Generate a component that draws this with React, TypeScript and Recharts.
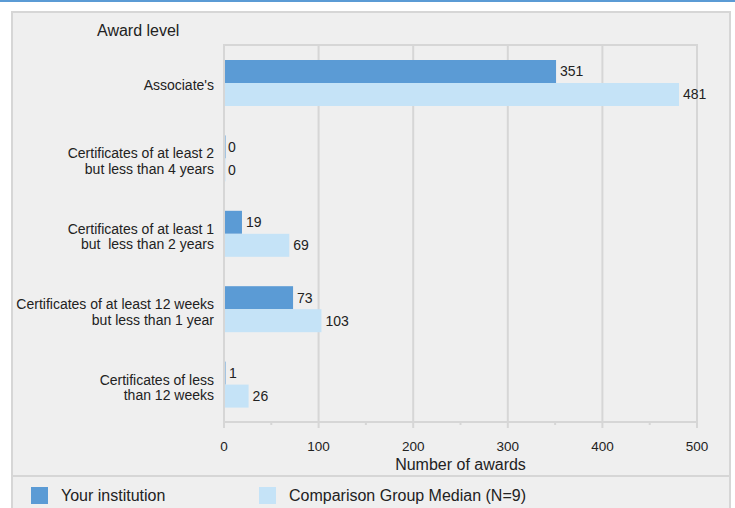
import {
  BarChart,
  Bar,
  XAxis,
  YAxis,
  CartesianGrid,
  ReferenceArea,
  LabelList,
} from "recharts";

const categories = [
  "Associate's",
  "Certificates of at least 2\nbut less than 4 years",
  "Certificates of at least 1\nbut  less than 2 years",
  "Certificates of at least 12 weeks\nbut less than 1 year",
  "Certificates of less\nthan 12 weeks",
];
const yourInstitution = [351, 0, 19, 73, 1];
const comparisonMedian = [481, 0, 69, 103, 26];
const xTicks = [0, 50, 100, 150, 200, 250, 300, 350, 400, 450, 500];
const gridValues = [100, 200, 300, 400];
const seriesNames = ["Your institution", "Comparison Group Median (N=9)"];

const data = categories.map((name, i) => ({
  name,
  yours: yourInstitution[i],
  median: comparisonMedian[i],
}));

const DARK = "#5b9bd5";
const LIGHT = "#c5e3f7";
const GRID = "#d6d6d6";
const FONT = "Arial, 'Liberation Sans', sans-serif";

function CategoryTick({ x, y, payload }: any) {
  const lines = String(payload.value).split("\n");
  const lh = 15.5;
  const start = y + 2 + (lines.length > 1 ? 1 : 0) - ((lines.length - 1) * lh) / 2;
  return (
    <text
      x={x - 2}
      y={start}
      textAnchor="end"
      dominantBaseline="central"
      fontSize={14}
      fill="#222"
      fontFamily={FONT}
      style={{ whiteSpace: "pre" }}
    >
      {lines.map((l, i) => (
        <tspan key={i} x={x - 2} y={start + i * lh} style={{ whiteSpace: "pre" }}>
          {l}
        </tspan>
      ))}
    </text>
  );
}

function ValueTick({ x, y, payload }: any) {
  const major = payload.value % 100 === 0;
  return (
    <g>
      <line x1={x} x2={x} y1={y - 8} y2={y - 8 + (major ? 6 : 3)} stroke={GRID} strokeWidth={2} />
      {major && (
        <text x={x} y={y + 21} textAnchor="middle" fontSize={13.5} fill="#222" fontFamily={FONT}>
          {payload.value}
        </text>
      )}
    </g>
  );
}

// thin sliver for zero / tiny values, like the original
function ThinBar({ x, y, width, height, fill }: any) {
  return <rect x={x} y={y} width={Math.max(width || 0, 1.5)} height={height} fill={fill} />;
}

export default function App() {
  const legendLefts = [31, 259];
  const legendColors = [DARK, LIGHT];
  return (
    <div style={{ position: "absolute", left: 0, top: 0, width: 735, height: 508, overflow: "hidden", background: "#fff" }}>
      <div style={{ position: "absolute", left: 0, top: 0, width: 735, height: 2, background: DARK }} />
      <div
        style={{
          position: "absolute",
          left: 11,
          top: 11,
          width: 716,
          height: 520,
          background: "#efefef",
          border: `2px solid ${GRID}`,
        }}
      />
      <div style={{ position: "absolute", left: 11, top: 475, width: 720, height: 2, background: GRID }} />
      <div
        style={{
          position: "absolute",
          left: 97,
          top: 22,
          fontFamily: FONT,
          fontSize: 16,
          lineHeight: "18px",
          color: "#222",
        }}
      >
        Award level
      </div>
      {seriesNames.map((s, i) => (
        <div
          key={s}
          style={{
            position: "absolute",
            left: legendLefts[i],
            top: 487,
            height: 17,
            display: "flex",
            alignItems: "center",
            fontFamily: FONT,
            fontSize: 16,
            lineHeight: "17px",
            color: "#222",
          }}
        >
          <span style={{ width: 17, height: 17, background: legendColors[i], marginRight: 13, display: "inline-block" }} />
          {s}
        </div>
      ))}
      <div style={{ position: "absolute", left: 0, top: 0 }}>
        <BarChart
          width={735}
          height={508}
          data={data}
          layout="vertical"
          margin={{ top: 45, right: 38, bottom: 38, left: 0 }}
          barGap={0}
          barSize={23}
        >
          <CartesianGrid horizontal={false} verticalValues={gridValues} stroke={GRID} strokeWidth={2} />
          <ReferenceArea x1={0} x2={500} fill="none" stroke={GRID} strokeWidth={2} ifOverflow="extendDomain" />
          <XAxis
            type="number"
            domain={[0, 500]}
            ticks={xTicks}
            interval={0}
            tickLine={false}
            axisLine={{ stroke: GRID, strokeWidth: 2 }}
            tick={<ValueTick />}
            height={48}
            label={{
              value: "Number of awards",
              position: "insideBottom",
              offset: 0,
              fontSize: 16,
              fill: "#222",
              fontFamily: FONT,
            }}
          />
          <YAxis
            type="category"
            dataKey="name"
            width={224}
            tickLine={false}
            axisLine={{ stroke: GRID, strokeWidth: 2 }}
            tick={<CategoryTick />}
            interval={0}
          />
          <Bar dataKey="yours" name={seriesNames[0]} fill={DARK} shape={<ThinBar />} isAnimationActive={false}>
            <LabelList dataKey="yours" position="right" offset={4} fontSize={14} fill="#222" fontFamily={FONT} />
          </Bar>
          <Bar dataKey="median" name={seriesNames[1]} fill={LIGHT} shape={<ThinBar />} isAnimationActive={false}>
            <LabelList dataKey="median" position="right" offset={4} fontSize={14} fill="#222" fontFamily={FONT} />
          </Bar>
        </BarChart>
      </div>
    </div>
  );
}
